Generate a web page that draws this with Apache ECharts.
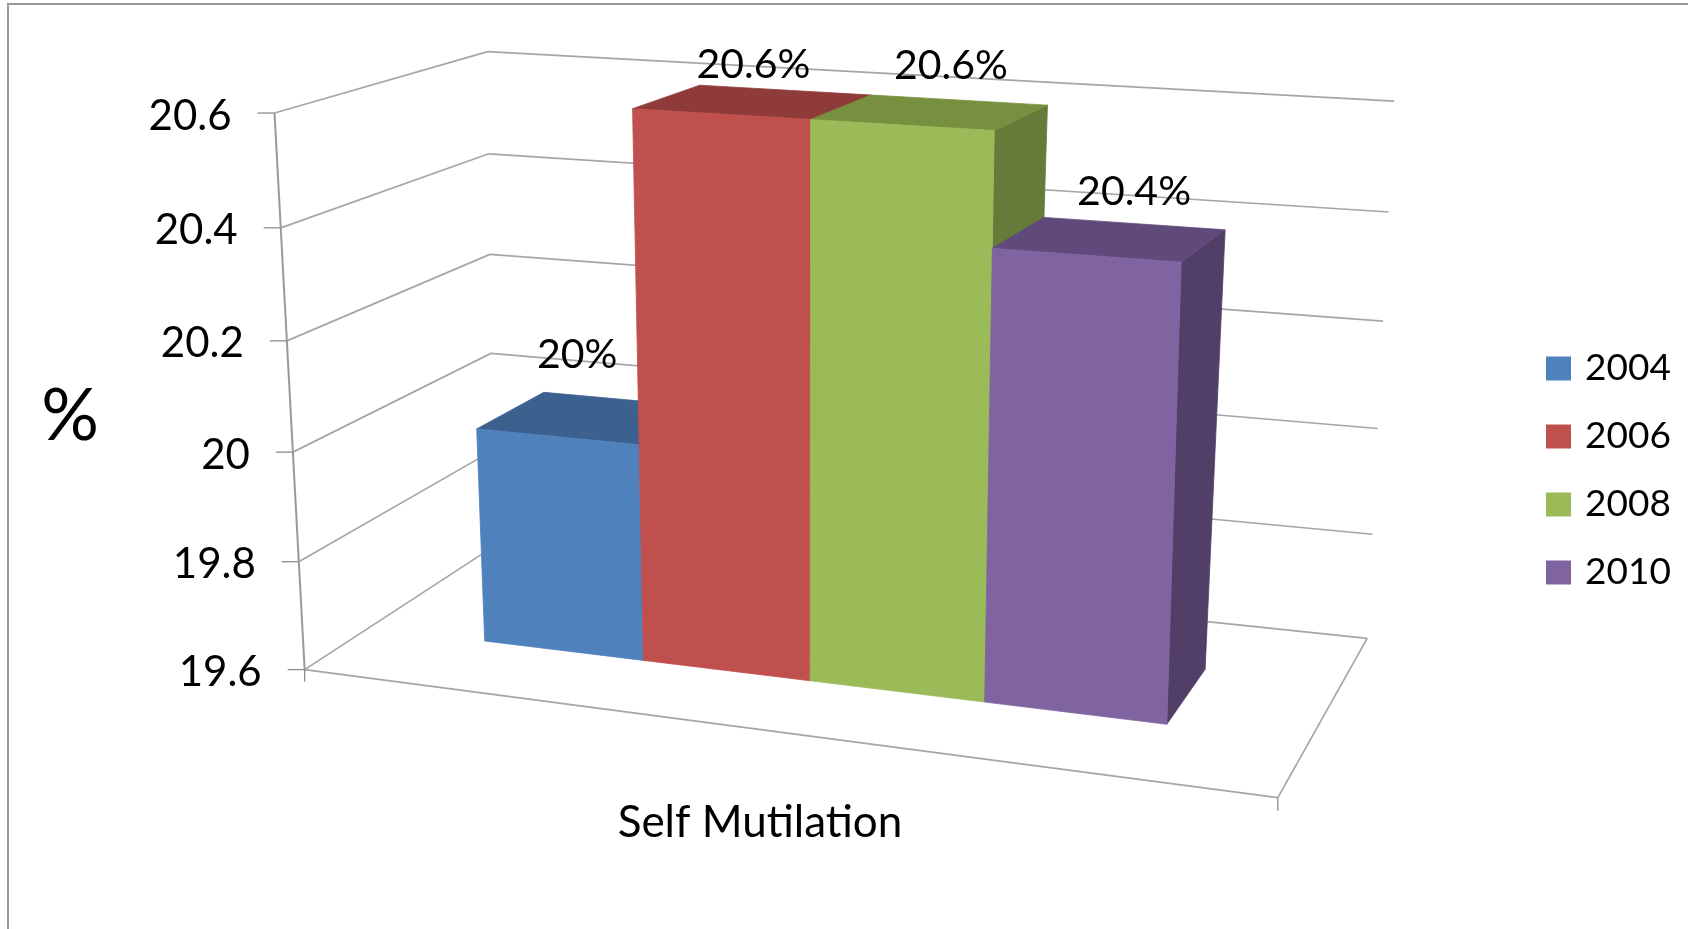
<!DOCTYPE html>
<html><head><meta charset="utf-8">
<style>html,body{margin:0;padding:0;background:#fff}#c{width:1688px;height:929px}</style>
<script src="https://cdn.jsdelivr.net/npm/echarts@6/dist/echarts.min.js"></script>
</head><body><div id="c"></div>
<script>
const categories = ['Self Mutilation'];
const seriesNames = ['2004', '2006', '2008', '2010'];
const values2004 = [20];
const values2006 = [20.6];
const values2008 = [20.6];
const values2010 = [20.4];
const tickValues = [19.6, 19.8, 20, 20.2, 20.4, 20.6];
const tickLabels = ['19.6', '19.8', '20', '20.2', '20.4', '20.6'];
const dataLabels = ['20%', '20.6%', '20.6%', '20.4%'];

const FONT = 'Lato';
const S = 1688 / 1568;
const pt = (x, y) => [x * S, y * S];
const floorQuad = [pt(283, 622), pt(1187, 741), pt(1270, 593), pt(458, 508)];
const topQuad = [pt(255, 105), pt(1211, 166), pt(1295, 94), pt(453, 48)];
const front = ['#4f81bd', '#c0504d', '#9bbb59', '#8064a2'];
const top_ = ['#3c618f', '#8f3b39', '#76903f', '#604a7b'];
const side = ['#3c618f', '#8f3b39', '#667a39', '#523f68'];
const uBase = [0.1405, 0.3255, 0.509, 0.69, 0.868];
const uTopFront = [0.1285, 0.3115, 0.4966, 0.6796, 0.8615];
const uTopBack = [0.1285, 0.314, 0.5, 0.684, 0.867];
const vFront = 0.32, vBack = 0.68, foreshorten = 0.038;
const labelOffset = [[-17, -63], [-11, -38], [11, -47], [19, -47]];

function homography(q) {
  const [p0, p1, p2, p3] = q;
  const dx1 = p1[0] - p2[0], dx2 = p3[0] - p2[0], sx = p0[0] - p1[0] + p2[0] - p3[0];
  const dy1 = p1[1] - p2[1], dy2 = p3[1] - p2[1], sy = p0[1] - p1[1] + p2[1] - p3[1];
  const det = dx1 * dy2 - dx2 * dy1;
  const g = (sx * dy2 - dx2 * sy) / det, h = (dx1 * sy - sx * dy1) / det;
  const a = p1[0] - p0[0] + g * p1[0], b = p3[0] - p0[0] + h * p3[0], c = p0[0];
  const d = p1[1] - p0[1] + g * p1[1], e = p3[1] - p0[1] + h * p3[1], f = p0[1];
  return (u, v) => { const w = g * u + h * v + 1; return [(a * u + b * v + c) / w, (d * u + e * v + f) / w]; };
}
const floorH = homography(floorQuad), topH = homography(topQuad);
function project(u, v, t) {
  const a = floorH(u, v), b = topH(u, v);
  return [a[0] + (b[0] - a[0]) * t, a[1] + (b[1] - a[1]) * t];
}
function heightOf(params, api, value) {
  const cs = params.coordSys;
  const t = (cs.y + cs.height - api.coord([0, value])[1]) / cs.height;
  return t * (1 - foreshorten) / (1 - foreshorten * t);
}
const LINE = { stroke: '#a6a6a6', lineWidth: 1.7 };
function line(a, b, style) {
  return { type: 'line', shape: { x1: a[0], y1: a[1], x2: b[0], y2: b[1] }, style: style || LINE };
}
function wallItem(params, api) {
  const t = heightOf(params, api, api.value(1));
  const fl = project(0, 0, t), bl = project(0, 1, t), br = project(1, 1, t);
  const kids = [line(fl, bl), line(bl, br), line([fl[0] - 17, fl[1]], fl, { stroke: '#8c8c8c', lineWidth: 1.3 })];
  kids.push({
    type: 'text', style: {
      text: tickLabels[params.dataIndex], x: fl[0] - 43, y: fl[1] + 3, align: 'right', verticalAlign: 'middle',
      font: '42px ' + FONT, fill: '#000'
    }
  });
  if (params.dataIndex === 0) {
    const fr = project(1, 0, 0), a = project(0, 0, 0), top = project(0, 0, 1);
    kids.push(line(a, fr), line(fr, br), line(a, top, { stroke: '#999', lineWidth: 2 }));
    kids.push(line(a, [a[0], a[1] + 12], { stroke: '#8c8c8c', lineWidth: 1.3 }));
    kids.push(line(fr, [fr[0], fr[1] + 13], { stroke: '#8c8c8c', lineWidth: 1.3 }));
  }
  return { type: 'group', children: kids };
}
function poly(points, color) {
  return { type: 'polygon', shape: { points }, style: { fill: color, stroke: color, lineWidth: 0.8 } };
}
function barRenderer(i) {
  return function (params, api) {
    const t = heightOf(params, api, api.value(1));
    const uF = k => uBase[k] + (uTopFront[k] - uBase[k]) * t;
    const uB = k => uBase[k] + (uTopBack[k] - uBase[k]) * t;
    const bl = project(uBase[i], vFront, 0), br = project(uBase[i + 1], vFront, 0);
    const brb = project(uBase[i + 1], vBack, 0);
    const tl = project(uF(i), vFront, t), tr = project(uF(i + 1), vFront, t);
    const tlb = project(uB(i), vBack, t), trb = project(uB(i + 1), vBack, t);
    const lab = project((uBase[i] + uBase[i + 1]) / 2, 0.5, t);
    return {
      type: 'group', children: [
        poly([br, brb, trb, tr], side[i]),
        poly([tl, tr, trb, tlb], top_[i]),
        poly([bl, br, tr, tl], front[i]),
        {
          type: 'text', z2: 100, style: {
            text: dataLabels[i], x: lab[0] + labelOffset[i][0], y: lab[1] + labelOffset[i][1],
            align: 'center', verticalAlign: 'middle', font: '41px ' + FONT, fill: '#000'
          }
        }
      ]
    };
  };
}
const allValues = [values2004, values2006, values2008, values2010];
const chart = echarts.init(document.getElementById('c'));
chart.setOption({
  animation: false,
  backgroundColor: '#fff',
  grid: { left: 0, right: 0, top: 0, bottom: 0 },
  xAxis: { type: 'category', data: categories, show: false },
  yAxis: { type: 'value', min: 19.6, max: 20.6, interval: 0.2, show: false },
  legend: {
    orient: 'vertical', left: 1541, top: 345, itemWidth: 25, itemHeight: 24, itemGap: 31,
    icon: 'rect', data: seriesNames, selectedMode: false,
    textStyle: { fontFamily: FONT, fontSize: 37, color: '#000', lineHeight: 24, padding: [0, 0, 0, 9] }
  },
  graphic: [
    { type: 'polyline', z: 0, shape: { points: [[8, 929], [8, 4], [1688, 4]] }, style: { stroke: '#999', lineWidth: 2, fill: null } },
    { type: 'text', z: 5, style: { text: '%', x: 70, y: 417, align: 'center', verticalAlign: 'middle', font: '72px ' + FONT, fill: '#000' } },
    { type: 'text', z: 5, style: { text: categories[0], x: 760, y: 823, align: 'center', verticalAlign: 'middle', font: '44px ' + FONT, fill: '#000' } }
  ],
  series: [
    { type: 'custom', name: 'walls', z: 1, silent: true, renderItem: wallItem, data: tickValues.map(v => [0, v]), encode: { x: 0, y: 1 } }
  ].concat(seriesNames.map((n, i) => ({
    type: 'custom', name: n, z: 2 + i, silent: true, renderItem: barRenderer(i),
    itemStyle: { color: front[i] }, data: [[0, allValues[i][0]]], encode: { x: 0, y: 1 }
  })))
});
</script></body></html>
